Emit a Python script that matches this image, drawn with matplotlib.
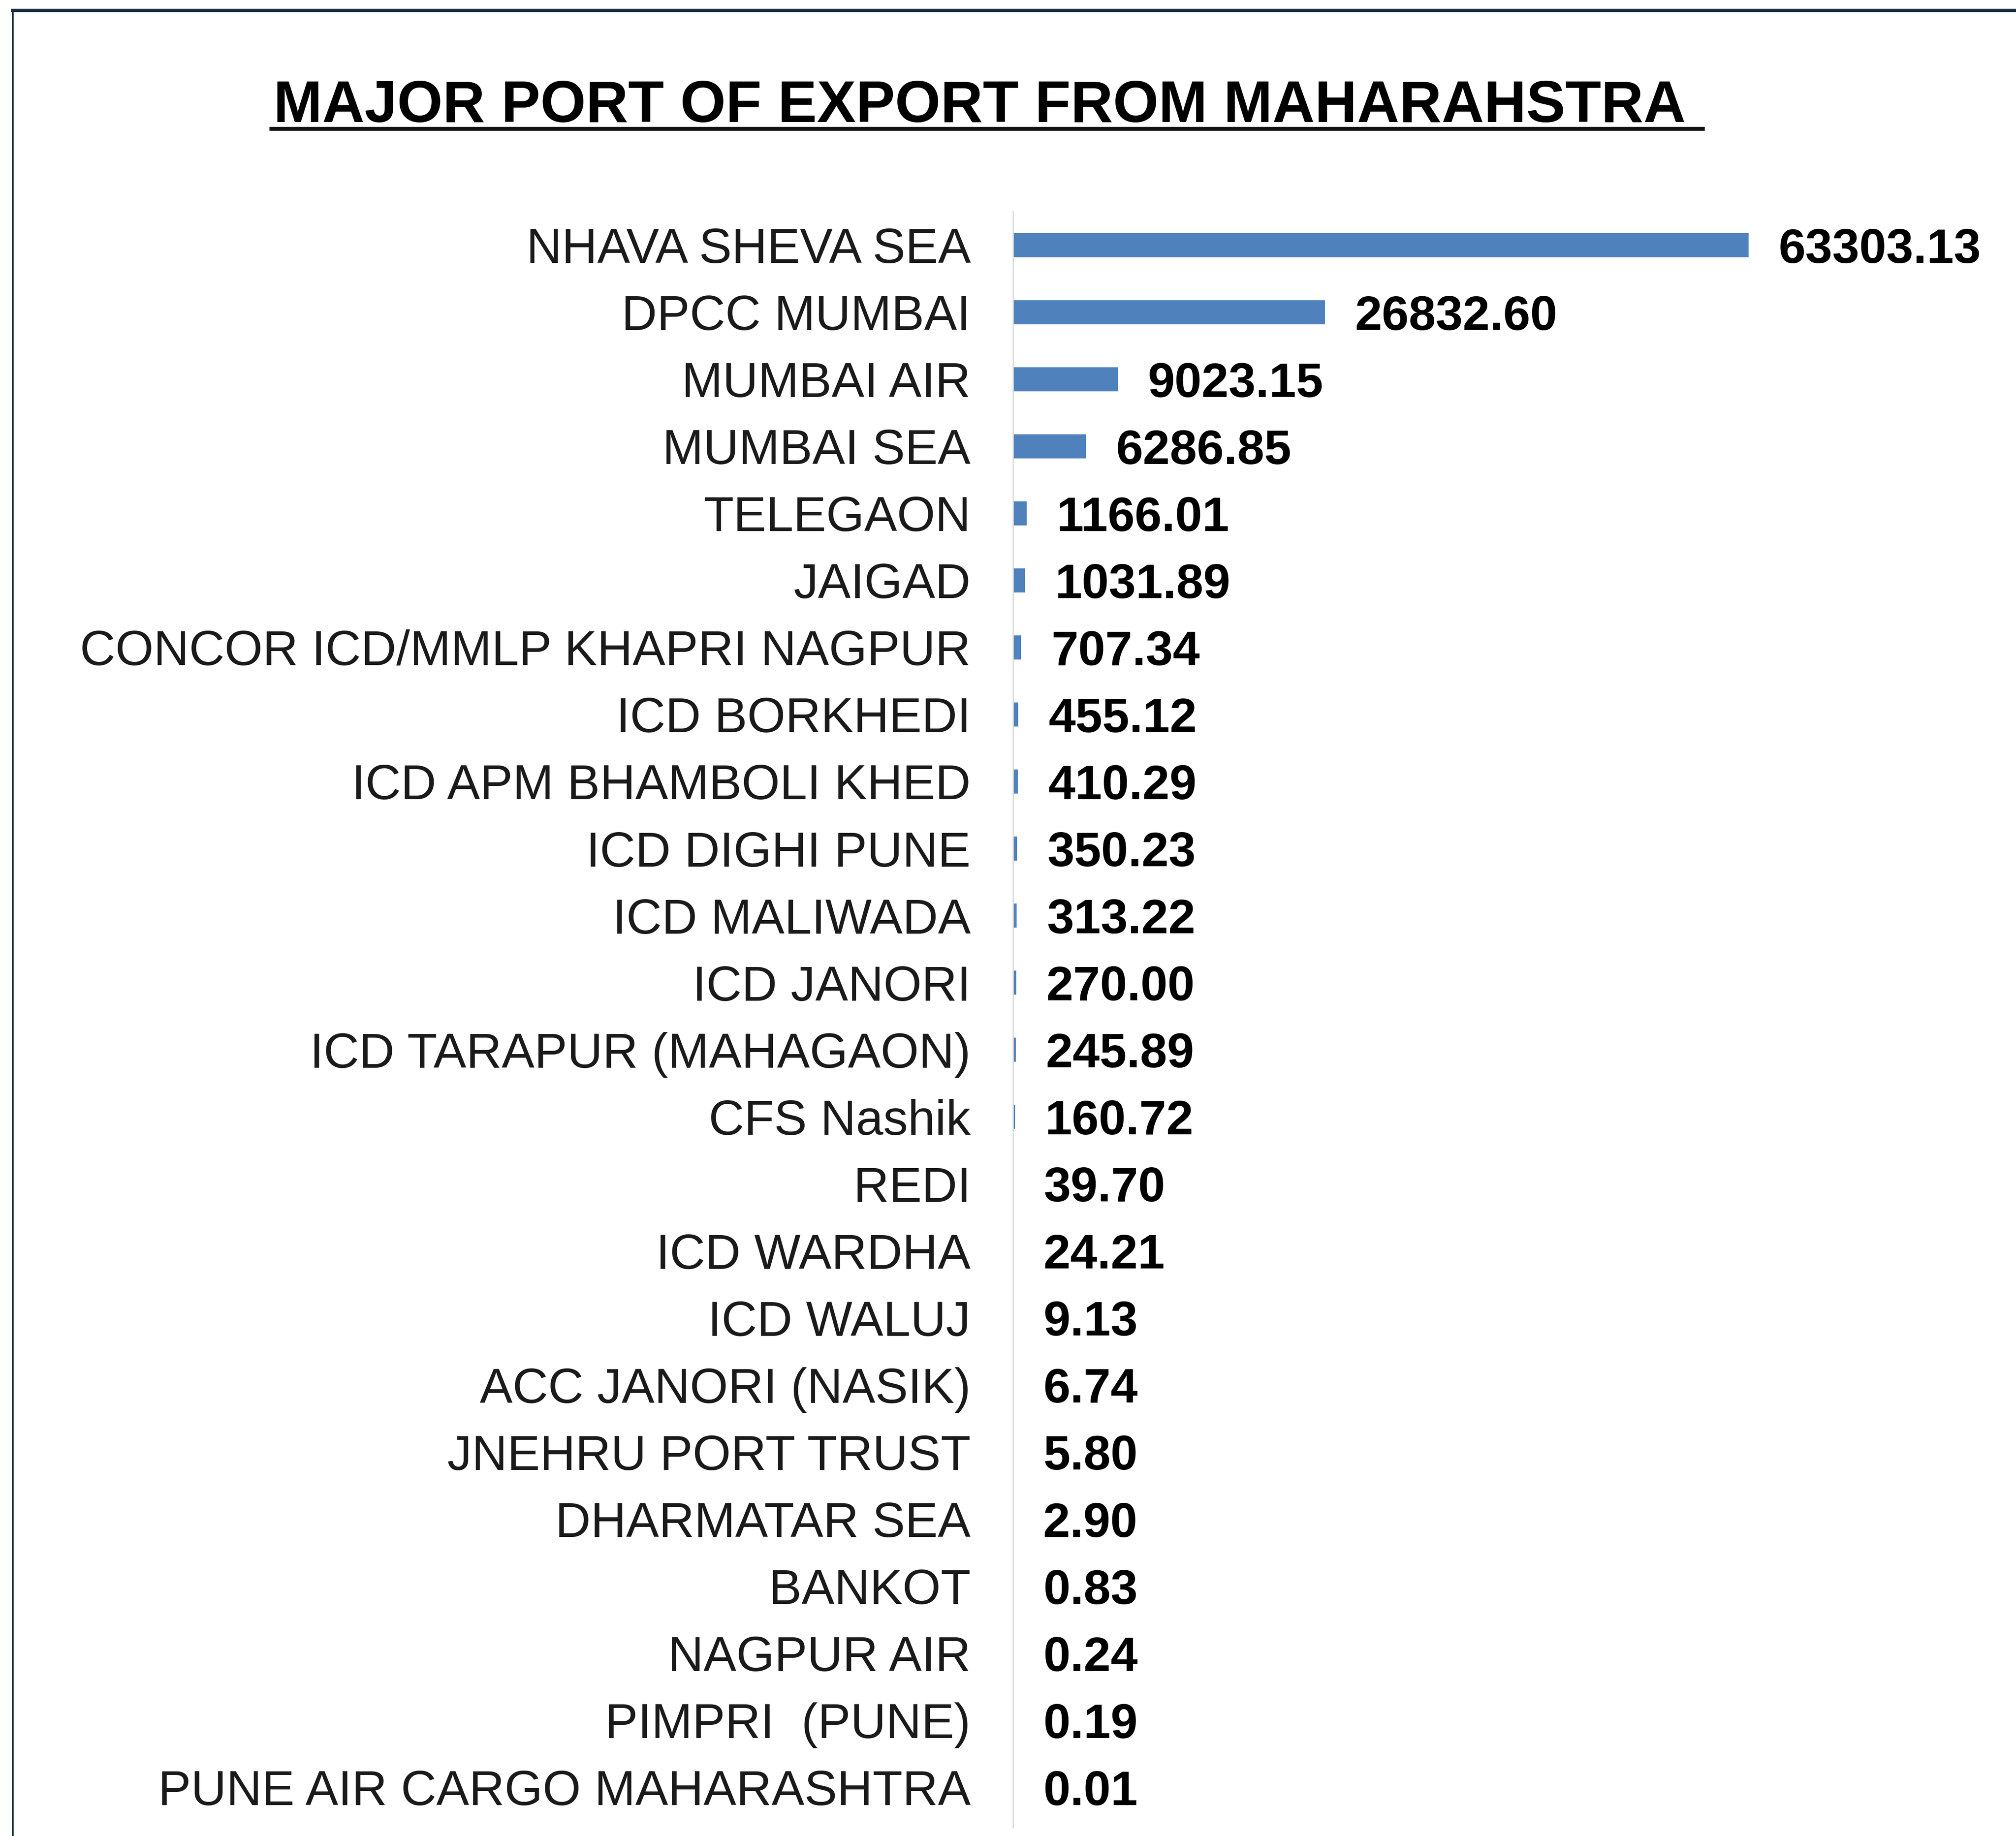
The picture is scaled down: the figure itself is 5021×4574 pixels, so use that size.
#!/usr/bin/env python

import matplotlib
matplotlib.use('Agg')
import matplotlib.pyplot as plt
from matplotlib.lines import Line2D

# ports and export values
ports = ['NHAVA SHEVA SEA', 'DPCC MUMBAI', 'MUMBAI AIR', 'MUMBAI SEA', 'TELEGAON',
         'JAIGAD', 'CONCOR ICD/MMLP KHAPRI NAGPUR', 'ICD BORKHEDI',
         'ICD APM BHAMBOLI KHED', 'ICD DIGHI PUNE', 'ICD MALIWADA', 'ICD JANORI',
         'ICD TARAPUR (MAHAGAON)', 'CFS Nashik', 'REDI', 'ICD WARDHA', 'ICD WALUJ',
         'ACC JANORI (NASIK)', 'JNEHRU PORT TRUST', 'DHARMATAR SEA', 'BANKOT',
         'NAGPUR AIR', 'PIMPRI  (PUNE)', 'PUNE AIR CARGO MAHARASHTRA']
values = [63303.13, 26832.60, 9023.15, 6286.85, 1166.01, 1031.89, 707.34, 455.12,
          410.29, 350.23, 313.22, 270.00, 245.89, 160.72, 39.70, 24.21, 9.13, 6.74,
          5.80, 2.90, 0.83, 0.24, 0.19, 0.01]

title = 'MAJOR PORT OF EXPORT FROM MAHARAHSTRA'

W, H, DPI = 5021, 4574, 100
plt.rcParams['font.family'] = ['Liberation Sans', 'DejaVu Sans']

fig = plt.figure(figsize=(W / DPI, H / DPI), dpi=DPI)
fig.patch.set_facecolor('white')

# axes placed so the zero line sits where the reference has it
left, bottom, height = 2523 / W, 21 / H, 4026 / H
width = 1 - left
ax = fig.add_axes([left, bottom, width, height])

pos = list(range(len(ports)))
ax.barh(pos, values, height=0.36, color='#4f81bd')

# max bar should end ~1832 px right of the axis
ax.set_xlim(0, max(values) * (width * W) / 1832)
ax.set_ylim(len(ports) - 0.4, -0.5)

ax.set_yticks(pos)
ax.set_yticklabels(ports, fontsize=88, color='#1a1a1a')
ax.tick_params(axis='y', length=0, pad=76)
ax.set_xticks([])

for s in ['top', 'right', 'bottom']:
    ax.spines[s].set_visible(False)
ax.spines['left'].set_color('#d9d9d9')
ax.spines['left'].set_linewidth(2.2)

# value labels
for p, v in zip(pos, values):
    ax.annotate('%.2f' % v, xy=(v, p), xytext=(54, -9), textcoords='offset points',
                ha='left', va='center', fontsize=87, fontweight='bold', color='black')

# title with underline
t = fig.text(2440 / W, 1 - 304 / H, title, ha='center', va='baseline',
             fontsize=105, fontweight='bold', color='black')
fig.canvas.draw()
bb = t.get_window_extent(renderer=fig.canvas.get_renderer())
uy = 1 - 321 / H
fig.add_artist(Line2D([(bb.x0 - 5) / W, (bb.x1 + 42) / W], [uy, uy], color='#111111',
                      linewidth=7, transform=fig.transFigure))

# frame border (top and left edges visible)
fig.add_artist(Line2D([32 / W, 1], [1 - 26 / H, 1 - 26 / H], color='#1c2e3f',
                      linewidth=6, transform=fig.transFigure))
fig.add_artist(Line2D([32 / W, 32 / W], [0, 1 - 26 / H], color='#1c2e3f',
                      linewidth=3, transform=fig.transFigure))

fig.savefig('out.png', dpi=DPI, facecolor='white')
